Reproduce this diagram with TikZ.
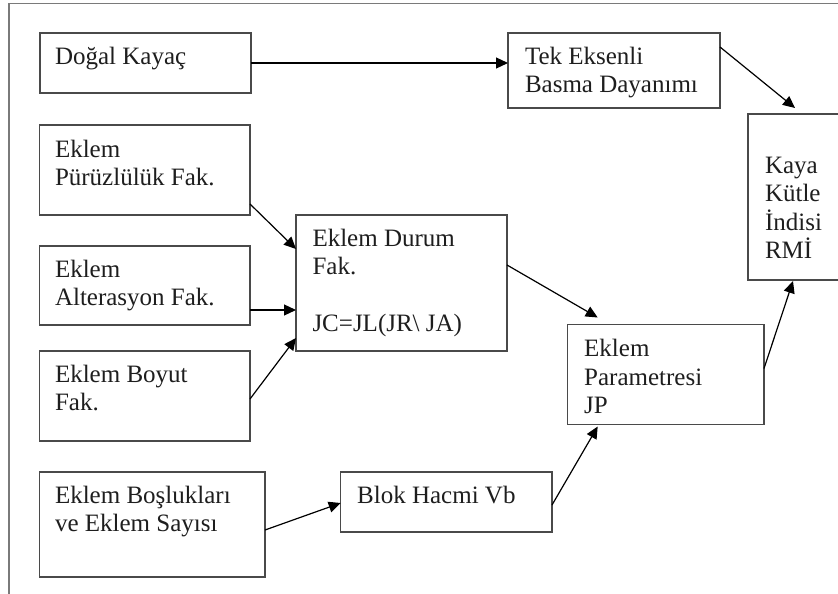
\documentclass[tikz,border=0pt]{standalone}
\usepackage{fontspec}
\setmainfont{Liberation Serif}
\usetikzlibrary{arrows.meta}
\definecolor{boxgray}{HTML}{4A4A4A}
\definecolor{framegray}{HTML}{7A7A7A}
\definecolor{txtcol}{HTML}{1E1E1E}
\tikzset{
  box/.style={draw=boxgray, line width=1.2pt, inner sep=0pt, outer sep=0pt, anchor=north west, rectangle},
  txt/.style={inner sep=0pt, outer sep=0pt, anchor=base west, text=txtcol, font=\fontsize{25pt}{28.5pt}\selectfont},
  conn/.style={draw=black, line width=1.2pt, -{Triangle[length=12pt,width=11pt]}}
}
\newcommand{\lines}[1]{\parbox[t]{240pt}{\raggedright #1}}
\begin{document}
\begin{tikzpicture}[x=1pt,y=-1pt]
\useasboundingbox (0,0) rectangle (838,594);
\fill[white] (0,0) rectangle (838,594);
% outer frame (cropped)
\draw[framegray, line width=1.3pt] (9,600) -- (9,3.5) -- (845,3.5);
% boxes
\node[box, minimum width=211pt, minimum height=60pt] (dk) at (40,33) {};
\node[box, minimum width=210.5pt, minimum height=90pt] (pz) at (39.5,125) {};
\node[box, minimum width=210.5pt, minimum height=79pt] (alt) at (39.5,246) {};
\node[box, minimum width=210.5pt, minimum height=90pt] (boy) at (39.5,351) {};
\node[box, minimum width=225.5pt, minimum height=105pt] (bos) at (39.5,472) {};
\node[box, minimum width=211pt, minimum height=136pt] (dur) at (296,215) {};
\node[box, minimum width=211.3pt, minimum height=60pt] (blok) at (340.7,472) {};
\node[box, minimum width=212pt, minimum height=75pt] (tek) at (508,33) {};
\node[box, minimum width=100pt, minimum height=166pt] (kaya) at (748,114) {};
\node[box, minimum width=196.3pt, minimum height=100pt] (jp) at (567.7,324.5) {};
% texts
\node[txt] (dkt) at ([xshift=15pt,yshift=-32pt]dk.north west) {\lines{Doğal Kayaç}};
\node[txt] (pzt) at ([xshift=15.5pt,yshift=-32pt]pz.north west) {\lines{Eklem\\Pürüzlülük Fak.}};
\node[txt] (altt) at ([xshift=15.5pt,yshift=-31pt]alt.north west) {\lines{Eklem\\Alterasyon Fak.}};
\node[txt] (boyt) at ([xshift=15.5pt,yshift=-31pt]boy.north west) {\lines{Eklem Boyut\\Fak.}};
\node[txt] (bost) at ([xshift=15.5pt,yshift=-31pt]bos.north west) {\lines{Eklem Boşlukları\\ve Eklem Sayısı}};
\node[txt] (durt) at ([xshift=16.5pt,yshift=-31pt]dur.north west) {\lines{Eklem Durum\\Fak.\\[28.5pt]JC=JL(JR\textbackslash\ JA)}};
\node[txt] (blokt) at ([xshift=16.5pt,yshift=-31pt]blok.north west) {\lines{Blok Hacmi Vb}};
\node[txt] (tekt) at ([xshift=17pt,yshift=-31pt]tek.north west) {\lines{Tek Eksenli\\Basma Dayanımı}};
\node[txt] (kayat) at ([xshift=17pt,yshift=-59pt]kaya.north west) {\lines{Kaya\\Kütle\\İndisi\\RMİ}};
\node[txt] (jpt) at ([xshift=16.5pt,yshift=-32pt]jp.north west) {\lines{Eklem\\Parametresi\\JP}};
% connectors
\draw[conn] (dk.east) -- (dk.east -| tek.west);
\draw[conn] ([yshift=-14pt]tek.north east) -- ([xshift=47pt,yshift=6pt]kaya.north west);
\draw[conn] ([yshift=11pt]pz.south east) -- ([yshift=-34pt]dur.north west);
\draw[conn] ([yshift=15pt]alt.south east) -- ([yshift=15pt]alt.south east -| dur.west);
\draw[conn] ([yshift=42pt]boy.south east) -- ([yshift=13pt]dur.south west);
\draw[conn] ([yshift=-50pt]dur.north east) -- ([xshift=30pt,yshift=7pt]jp.north west);
\draw[conn] ([yshift=47pt]bos.south east) -- ([yshift=-1pt]blok.west);
\draw[conn] ([yshift=-3pt]blok.east) -- ([xshift=30pt,yshift=-2pt]jp.south west);
\draw[conn] ([yshift=-44pt]jp.north east) -- ([xshift=45pt,yshift=-1pt]kaya.south west);
\end{tikzpicture}
\end{document}
